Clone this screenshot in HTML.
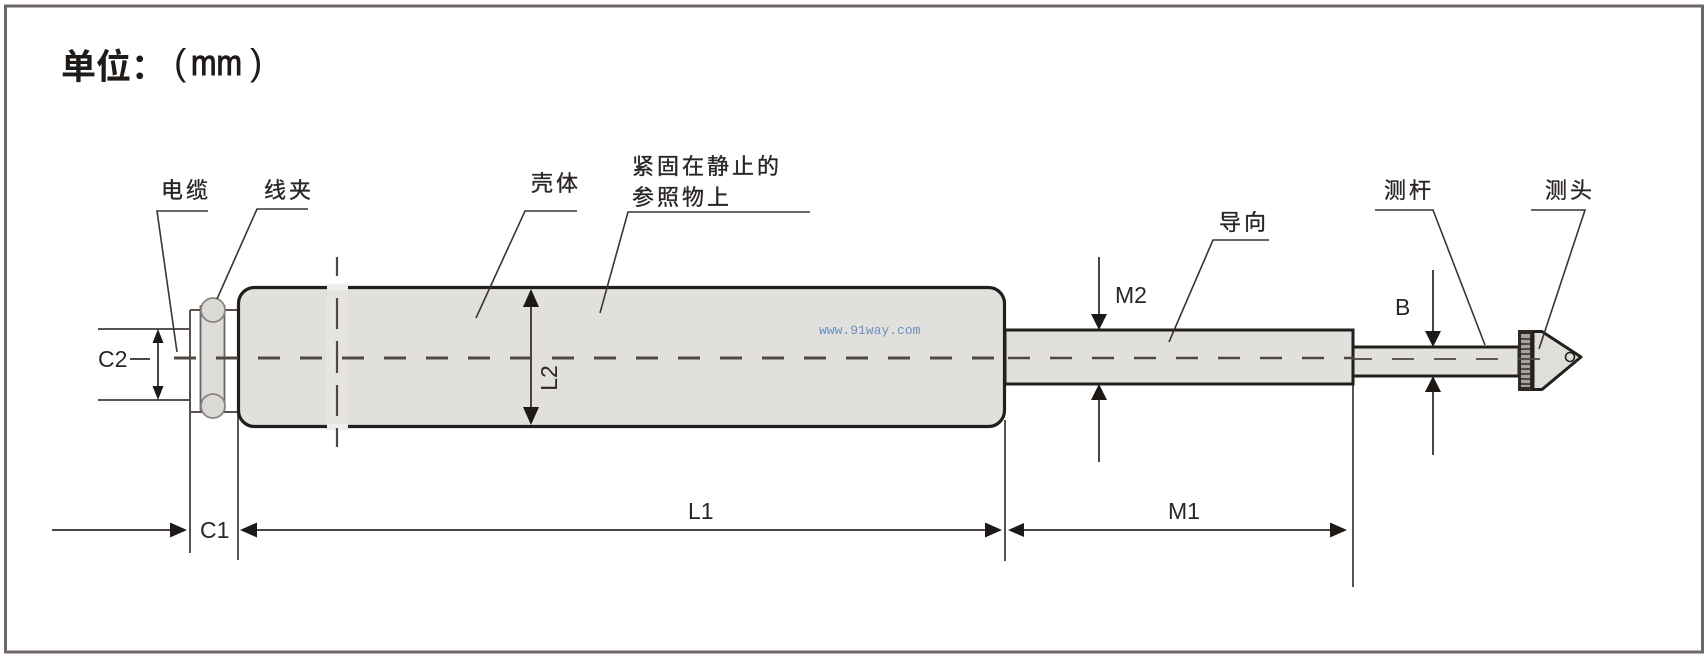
<!DOCTYPE html>
<html>
<head>
<meta charset="utf-8">
<style>
  html,body{margin:0;padding:0;background:#fff;}
  body{width:1708px;height:660px;overflow:hidden;}
  svg{display:block;}
  .cjk{font-family:"Liberation Sans","Noto Sans CJK SC",sans-serif;font-size:22px;fill:#2b2624;stroke:#2b2624;stroke-width:0.35;letter-spacing:3px;}
  .lat{font-family:"Liberation Sans",sans-serif;font-size:23px;fill:#2b2624;}
</style>
</head>
<body>
<svg width="1708" height="660" viewBox="0 0 1708 660" xmlns="http://www.w3.org/2000/svg">
  <rect x="0" y="0" width="1708" height="660" fill="#fff"/>
  <!-- outer border -->
  <rect x="5.5" y="6" width="1697" height="646" fill="none" stroke="#6f6763" stroke-width="3"/>

  <!-- title -->
  <text x="61" y="79" font-family="'Liberation Sans','Noto Sans CJK SC',sans-serif" font-size="35" font-weight="bold" fill="#1f1b19">单位：</text>
  <text x="174" y="75" font-family="'Liberation Sans',sans-serif" font-size="37" fill="#1f1b19">(</text>
  <text x="191" y="75" font-family="'Liberation Sans',sans-serif" font-size="36" fill="#1f1b19" stroke="#1f1b19" stroke-width="1.1" textLength="51" lengthAdjust="spacingAndGlyphs">mm</text>
  <text x="250" y="75" font-family="'Liberation Sans',sans-serif" font-size="37" fill="#1f1b19">)</text>

  <!-- extension lines -->
  <g stroke="#5a5250" stroke-width="2" fill="none">
    <line x1="190" y1="310" x2="190" y2="553"/>
    <line x1="238" y1="412" x2="238" y2="560"/>
    <line x1="1005" y1="420" x2="1005" y2="561"/>
    <line x1="1353" y1="384" x2="1353" y2="587"/>
    <line x1="98" y1="329" x2="190" y2="329"/>
    <line x1="98" y1="400" x2="190" y2="400"/>
    <line x1="190" y1="310" x2="238" y2="310"/>
    <line x1="190" y1="412" x2="238" y2="412"/>
  </g>

  <!-- clip inner rect and circles -->
  <rect x="200.5" y="306" width="24" height="104" fill="#dedcd8" stroke="#6a6360" stroke-width="1.8"/>
  <circle cx="213" cy="310" r="12" fill="#dcdad6" stroke="#8a8480" stroke-width="1.8"/>
  <circle cx="213" cy="406" r="12" fill="#dcdad6" stroke="#8a8480" stroke-width="1.8"/>

  <!-- housing body -->
  <rect x="238.5" y="287.5" width="766" height="139" rx="16" ry="16" fill="#e2e0dc" stroke="#231f1c" stroke-width="3.2"/>
  <!-- band for vertical center mark -->
  <rect x="327" y="284" width="21" height="146" fill="#e7e5e2"/>
  <rect x="327" y="284" width="21" height="6" fill="#efeeec"/>
  <rect x="327" y="424" width="21" height="6" fill="#efeeec"/>
  <!-- vertical dashed center -->
  <g stroke="#4f4845" stroke-width="2.2">
    <line x1="337" y1="257" x2="337" y2="276"/>
    <line x1="337" y1="298" x2="337" y2="329"/>
    <line x1="337" y1="341" x2="337" y2="373"/>
    <line x1="337" y1="385" x2="337" y2="416"/>
    <line x1="337" y1="428" x2="337" y2="447"/>
  </g>

  <!-- guide -->
  <rect x="1005" y="330" width="348" height="54" fill="#e2e0dc" stroke="#231f1c" stroke-width="3"/>
  <!-- rod -->
  <rect x="1353" y="347" width="166" height="29" fill="#e2e0dc" stroke="#231f1c" stroke-width="3"/>

  <!-- collar -->
  <rect x="1518" y="330" width="15" height="61" fill="#2f2a27"/>
  <rect x="1521" y="334" width="9" height="53" fill="#a8a29c"/>
  <g stroke="#2f2a27" stroke-width="1.5">
    <line x1="1521" y1="339" x2="1530" y2="339"/>
    <line x1="1521" y1="344" x2="1530" y2="344"/>
    <line x1="1521" y1="349" x2="1530" y2="349"/>
    <line x1="1521" y1="354" x2="1530" y2="354"/>
    <line x1="1521" y1="359" x2="1530" y2="359"/>
    <line x1="1521" y1="364" x2="1530" y2="364"/>
    <line x1="1521" y1="369" x2="1530" y2="369"/>
    <line x1="1521" y1="374" x2="1530" y2="374"/>
    <line x1="1521" y1="379" x2="1530" y2="379"/>
    <line x1="1521" y1="384" x2="1530" y2="384"/>
  </g>
  <!-- cone tip -->
  <polygon points="1533,331.5 1542,331.5 1581,357 1542,389.5 1533,389.5" fill="#e0deda" stroke="#231f1c" stroke-width="3" stroke-linejoin="round"/>
  <circle cx="1570" cy="357" r="4.5" fill="none" stroke="#231f1c" stroke-width="1.6"/>

  <!-- horizontal dashed center line -->
  <line x1="174" y1="358" x2="1005" y2="358" stroke="#4f4845" stroke-width="3" stroke-dasharray="22 20"/>
  <line x1="1005" y1="358" x2="1353" y2="358" stroke="#4f4845" stroke-width="2.5" stroke-dasharray="22 20" stroke-dashoffset="-3"/>
  <line x1="1353" y1="359" x2="1545" y2="359" stroke="#4f4845" stroke-width="1.8" stroke-dasharray="22 20" stroke-dashoffset="3"/>
  <line x1="130" y1="359" x2="150" y2="359" stroke="#4f4845" stroke-width="2"/>

  <!-- dimension lines -->
  <g stroke="#4a4340" stroke-width="2" fill="none">
    <line x1="52" y1="530" x2="172" y2="530"/>
    <line x1="252" y1="530" x2="990" y2="530"/>
    <line x1="1020" y1="530" x2="1335" y2="530"/>
    <line x1="158" y1="340" x2="158" y2="390"/>
    <line x1="531" y1="300" x2="531" y2="412"/>
    <line x1="1099" y1="257" x2="1099" y2="318"/>
    <line x1="1099" y1="396" x2="1099" y2="462"/>
    <line x1="1433" y1="270" x2="1433" y2="334"/>
    <line x1="1433" y1="389" x2="1433" y2="455"/>
  </g>
  <g fill="#1c1917">
    <polygon points="187,530 170,522.5 170,537.5"/>
    <polygon points="240,530 257,522.5 257,537.5"/>
    <polygon points="1002,530 985,522.5 985,537.5"/>
    <polygon points="1008,530 1024,523 1024,537"/>
    <polygon points="1347,530 1330,522.5 1330,537.5"/>
    <polygon points="158,329 152.5,343 163.5,343"/>
    <polygon points="158,400 152.5,386 163.5,386"/>
    <polygon points="531,289 523,307 539,307"/>
    <polygon points="531,425 523,407 539,407"/>
    <polygon points="1099,330 1091,314 1107,314"/>
    <polygon points="1099,384 1091,400 1107,400"/>
    <polygon points="1433,347 1425,331 1441,331"/>
    <polygon points="1433,376 1425,392 1441,392"/>
  </g>

  <!-- leaders -->
  <g stroke="#3b3532" stroke-width="1.6" fill="none">
    <polyline points="208,211 157,211 177,352"/>
    <polyline points="308,209 257,209 217,299"/>
    <polyline points="577,211 525,211 476,318"/>
    <polyline points="810,212 628,212 600,313"/>
    <polyline points="1269,240 1213,240 1169,342"/>
    <polyline points="1375,210 1433,210 1485,345"/>
    <polyline points="1531,210 1585,210 1539,349"/>
  </g>

  <!-- CJK labels -->
  <text class="cjk" x="161" y="198">电缆</text>
  <text class="cjk" x="264" y="198">线夹</text>
  <text class="cjk" x="531" y="191">壳体</text>
  <text class="cjk" x="632" y="174">紧固在静止的</text>
  <text class="cjk" x="632" y="205">参照物上</text>
  <text class="cjk" x="1219" y="230">导向</text>
  <text class="cjk" x="1384" y="198">测杆</text>
  <text class="cjk" x="1545" y="198">测头</text>

  <!-- Latin dimension labels -->
  <text class="lat" x="98" y="367">C2</text>
  <text class="lat" x="200" y="538">C1</text>
  <text class="lat" x="688" y="519">L1</text>
  <text class="lat" x="1168" y="519">M1</text>
  <text class="lat" x="1115" y="303">M2</text>
  <text class="lat" x="1395" y="315">B</text>
  <text class="lat" transform="translate(557,378) rotate(-90)" text-anchor="middle">L2</text>

  <!-- watermark -->
  <text x="819" y="334" font-family="'Liberation Mono',monospace" font-size="13" fill="#6a8fc0">www.91way.com</text>
</svg>
</body>
</html>
